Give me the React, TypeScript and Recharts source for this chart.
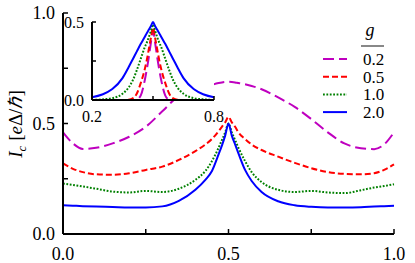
import React from 'react';
import { Legend, Line, LineChart, XAxis, YAxis } from 'recharts';

// main panel: critical current vs x for several g
const mainX = [0, 0.03, 0.06, 0.1, 0.15, 0.2, 0.25, 0.3, 0.35, 0.4, 0.43, 0.45, 0.47, 0.48, 0.49, 0.5,
	0.51, 0.52, 0.53, 0.55, 0.57, 0.6, 0.65, 0.7, 0.75, 0.8, 0.85, 0.9, 0.94, 0.97, 1];
const mainG02 = [0.46, 0.41, 0.385, 0.39, 0.41, 0.44, 0.485, 0.555, 0.625, 0.652, 0.665, 0.675, 0.683, 0.686, 0.688, 0.689,
	0.688, 0.686, 0.683, 0.678, 0.67, 0.655, 0.618, 0.575, 0.52, 0.46, 0.41, 0.388, 0.384, 0.405, 0.46];
const mainG05 = [0.32, 0.295, 0.28, 0.27, 0.268, 0.275, 0.29, 0.305, 0.335, 0.375, 0.405, 0.43, 0.465, 0.485, 0.505, 0.53,
	0.505, 0.485, 0.46, 0.43, 0.405, 0.38, 0.35, 0.322, 0.298, 0.28, 0.272, 0.27, 0.275, 0.29, 0.315];
const mainG10 = [0.228, 0.222, 0.215, 0.205, 0.192, 0.188, 0.195, 0.19, 0.205, 0.245, 0.285, 0.33, 0.39, 0.425, 0.46, 0.5,
	0.46, 0.425, 0.39, 0.33, 0.28, 0.235, 0.2, 0.19, 0.195, 0.188, 0.185, 0.198, 0.21, 0.217, 0.225];
const mainG20 = [0.13, 0.128, 0.126, 0.124, 0.122, 0.12, 0.12, 0.125, 0.15, 0.2, 0.245, 0.285, 0.36, 0.4, 0.445, 0.5,
	0.445, 0.405, 0.365, 0.29, 0.24, 0.19, 0.148, 0.13, 0.123, 0.12, 0.12, 0.121, 0.124, 0.126, 0.128];

// inset
const insetX = [0.2, 0.25, 0.3, 0.35, 0.38, 0.4, 0.42, 0.44, 0.46, 0.47, 0.48, 0.49, 0.5,
	0.51, 0.52, 0.53, 0.54, 0.56, 0.58, 0.6, 0.62, 0.65, 0.7, 0.75, 0.8];
const insetG02 = [0, 0, 0, 0, 0, 0, 0.002, 0.03, 0.13, 0.2, 0.28, 0.37, 0.445,
	0.37, 0.28, 0.2, 0.13, 0.03, 0.002, 0, 0, 0, 0, 0, 0];
const insetG05 = [0, 0, 0, 0, 0.002, 0.01, 0.04, 0.11, 0.2, 0.26, 0.33, 0.4, 0.465,
	0.4, 0.33, 0.26, 0.2, 0.11, 0.04, 0.01, 0.002, 0, 0, 0, 0];
const insetG10 = [0, 0.004, 0.012, 0.04, 0.08, 0.125, 0.19, 0.265, 0.34, 0.37, 0.405, 0.445, 0.485,
	0.445, 0.405, 0.37, 0.34, 0.265, 0.19, 0.125, 0.08, 0.04, 0.012, 0.004, 0];
const insetG20 = [0.017, 0.035, 0.07, 0.14, 0.21, 0.26, 0.31, 0.36, 0.405, 0.43, 0.452, 0.475, 0.5,
	0.475, 0.452, 0.43, 0.405, 0.36, 0.31, 0.26, 0.21, 0.14, 0.07, 0.035, 0.017];

const gLabels = ['0.2', '0.5', '1.0', '2.0'];
const xTicks = [0, 0.25, 0.5, 0.75, 1];
const yTicks = [0, 0.25, 0.5, 0.75, 1];
const majorTicks = [0, 0.5, 1];
const insetXTicks = [0.2, 0.5, 0.8];
const insetXLabeled = [0.2, 0.8];
const insetYTicks = [0, 0.25, 0.5];
const insetYLabeled = [0, 0.5];

const series = [
	{ key: 'g02', color: '#bf00bf', dash: '11 5' },
	{ key: 'g05', color: '#ff0000', dash: '6 3' },
	{ key: 'g10', color: '#008000', dash: '1.8 1.6' },
	{ key: 'g20', color: '#0000ff', dash: undefined as string | undefined },
];

const mainValues = [mainG02, mainG05, mainG10, mainG20];
const insetValues = [insetG02, insetG05, insetG10, insetG20];

const mainData = mainX.map((x, i) => {
	const row: { [k: string]: number } = { x };
	series.forEach((s, j) => { row[s.key] = mainValues[j][i]; });
	return row;
});
const insetData = insetX.map((x, i) => {
	const row: { [k: string]: number } = { x };
	series.forEach((s, j) => { row[s.key] = insetValues[j][i]; });
	return row;
});

const font = "Liberation Serif, 'Times New Roman', serif";
const tickStyle = { fill: '#000', fontSize: 18, fontFamily: font };
const insetTickStyle = { fill: '#000', fontSize: 16, fontFamily: font };
const lineStyle = { stroke: '#000', strokeWidth: 1.5 };
const axisStyle = { stroke: '#000', strokeWidth: 2 };

const fmt = (labeled: number[]) => (v: number) => (labeled.includes(v) ? v.toFixed(1) : '');

const YLabel = () => (
	<text transform="rotate(-90)" x={-124} y={22} textAnchor="middle" fontFamily={font} fontSize={19} fill="#000">
		<tspan fontStyle="italic">I</tspan>
		<tspan fontStyle="italic" fontSize={13} dy={4}>c</tspan>
		<tspan dy={-4}> [</tspan>
		<tspan fontStyle="italic">e</tspan>
		<tspan>Δ/</tspan>
		<tspan fontStyle="italic">ℏ</tspan>
		<tspan>]</tspan>
	</text>
);

const GLegend = () => (
	<svg width={100} height={110} style={{ fontFamily: font }}>
		<text x={60} y={16} textAnchor="middle" fontStyle="italic" fontSize={18} fontFamily={font}>g</text>
		<line x1={51} x2={74} y1={26} y2={26} stroke="#888" strokeWidth={2} />
		{series.map((s, i) => {
			const y = 39 + i * 17.7;
			return (
				<g key={s.key}>
					<line x1={13} x2={37} y1={y} y2={y} stroke={s.color} strokeWidth={2} strokeDasharray={s.dash} />
					<text x={53} y={y} dy="0.35em" fontSize={17} fontFamily={font}>{gLabels[i]}</text>
				</g>
			);
		})}
	</svg>
);

const renderLines = () => series.map((s) => (
	<Line key={s.key}
	      type="monotone"
	      dataKey={s.key}
	      stroke={s.color}
	      strokeWidth={2}
	      strokeDasharray={s.dash}
	      dot={false}
	      activeDot={false}
	      isAnimationActive={false} />
));

export default function App() {
	return (
		<div style={{ position: 'absolute', left: 0, top: 0, width: 415, height: 263, background: '#fff', fontFamily: font }}>
			<LineChart width={415} height={263} data={mainData} margin={{ top: 13, right: 21, bottom: 0, left: 23 }}>
				<XAxis dataKey="x" type="number" domain={[0, 1]} ticks={xTicks} interval={0}
				       tickFormatter={fmt(majorTicks)} tick={tickStyle} tickSize={-5} tickMargin={18}
				       height={29} axisLine={axisStyle} tickLine={lineStyle} />
				<XAxis xAxisId="top" orientation="top" dataKey="x" type="number" domain={[0, 1]} ticks={xTicks}
				       interval={0} tickFormatter={() => ''} tickSize={-5} height={0}
				       axisLine={axisStyle} tickLine={lineStyle} />
				<YAxis type="number" domain={[0, 1]} ticks={yTicks} interval={0} tickFormatter={fmt(majorTicks)}
				       tick={tickStyle} tickSize={-5} tickMargin={13} width={40}
				       axisLine={axisStyle} tickLine={lineStyle} label={{ content: () => <YLabel /> }} />
				<YAxis yAxisId="right" orientation="right" type="number" domain={[0, 1]} ticks={yTicks}
				       interval={0} tickFormatter={() => ''} tickSize={-5} width={0}
				       axisLine={axisStyle} tickLine={lineStyle} />
				<Legend content={<GLegend />} layout="horizontal" verticalAlign="middle" align="center"
				        wrapperStyle={{ left: 310, top: 20, width: 100, height: 110 }} />
				{renderLines()}
			</LineChart>
			<div style={{ position: 'absolute', left: 92, top: 22, width: 122, height: 78, background: '#fff' }} />
			<div style={{ position: 'absolute', left: 60, top: 14 }}>
				<LineChart width={170} height={111} data={insetData} margin={{ top: 8, right: 16, bottom: 0, left: 0 }}>
					<XAxis dataKey="x" type="number" domain={[0.2, 0.8]} ticks={insetXTicks} interval={0}
					       tickFormatter={fmt(insetXLabeled)} tick={insetTickStyle} tickSize={-4} tickMargin={15}
					       height={25} axisLine={axisStyle} tickLine={lineStyle} />
					<XAxis xAxisId="top" orientation="top" dataKey="x" type="number" domain={[0.2, 0.8]}
					       ticks={insetXTicks} interval={0} tickFormatter={() => ''} tickSize={-4} height={0}
					       axisLine={axisStyle} tickLine={lineStyle} />
					<YAxis type="number" domain={[0, 0.5]} ticks={insetYTicks} interval={0}
					       tickFormatter={fmt(insetYLabeled)} tick={insetTickStyle} tickSize={-4} tickMargin={12}
					       width={32} axisLine={axisStyle} tickLine={lineStyle} />
					<YAxis yAxisId="right" orientation="right" type="number" domain={[0, 0.5]} ticks={insetYTicks}
					       interval={0} tickFormatter={() => ''} tickSize={-4} width={0}
					       axisLine={axisStyle} tickLine={lineStyle} />
					{renderLines()}
				</LineChart>
			</div>
		</div>
	);
}
